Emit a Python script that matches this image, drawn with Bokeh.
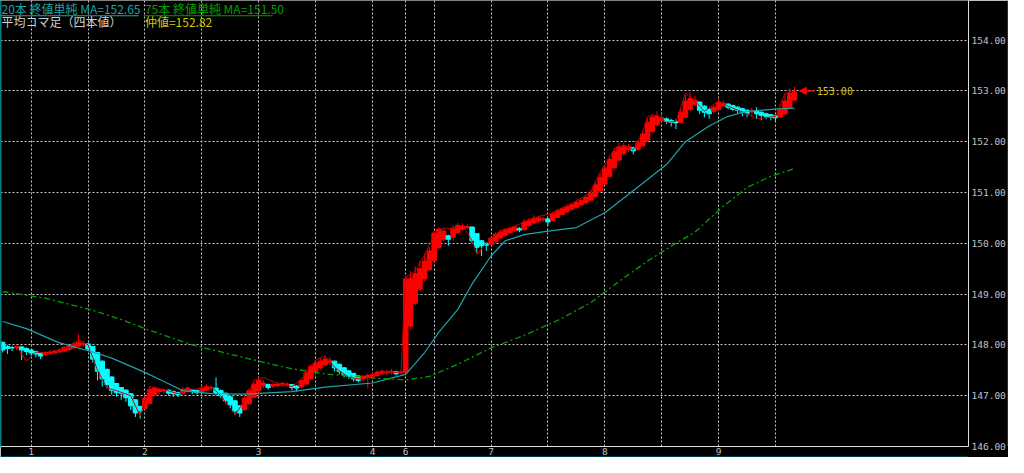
from bokeh.plotting import figure
from bokeh.models import (Range1d, LinearAxis, FixedTicker, Label, Arrow, NormalHead,
                          BoxAnnotation, ColumnDataSource, PrintfTickFormatter)
from bokeh.embed import file_html
from bokeh.resources import INLINE

# ---------------- data (hourly Heikin-Ashi bars, bar index 0..167) ----------------
ha_open = [
    148.05, 147.97, 147.95, 147.94, 147.96, 147.93, 147.90, 147.87, 147.84, 147.81,
    147.83, 147.84, 147.86, 147.88, 147.91, 147.94, 147.98, 148.01, 148.02, 147.97,
    147.85, 147.68, 147.52, 147.37, 147.24, 147.16, 147.11, 147.04, 146.92, 146.79,
    146.75, 146.85, 147.01, 147.08, 147.10, 147.11, 147.08, 147.06, 147.04, 147.08,
    147.12, 147.10, 147.08, 147.11, 147.15, 147.15, 147.10, 147.05, 146.98, 146.90,
    146.80, 146.73, 146.84, 146.97, 147.10, 147.20, 147.22, 147.19, 147.20, 147.21,
    147.22, 147.22, 147.19, 147.17, 147.23, 147.34, 147.46, 147.55, 147.61, 147.66,
    147.68, 147.62, 147.55, 147.49, 147.44, 147.39, 147.34, 147.36, 147.38, 147.40,
    147.43, 147.45, 147.46, 147.47, 147.45, 147.46, 148.37, 148.82, 149.10, 149.30,
    149.48, 149.66, 149.92, 150.07, 150.15, 150.12, 150.21, 150.28, 150.31, 150.32,
    150.19, 150.05, 150.00, 149.98, 150.04, 150.11, 150.16, 150.21, 150.25, 150.29,
    150.27, 150.35, 150.40, 150.44, 150.47, 150.48, 150.45, 150.51, 150.57, 150.62,
    150.67, 150.71, 150.76, 150.80, 150.85, 150.92, 151.03, 151.17, 151.32, 151.49,
    151.64, 151.77, 151.85, 151.88, 151.85, 151.92, 152.03, 152.20, 152.34, 152.42,
    152.45, 152.42, 152.40, 152.38, 152.48, 152.64, 152.74, 152.78, 152.70, 152.64,
    152.60, 152.64, 152.71, 152.74, 152.71, 152.68, 152.65, 152.62, 152.59, 152.60,
    152.58, 152.55, 152.53, 152.51, 152.49, 152.55, 152.68, 152.82,
]
ha_close = [
    147.90, 147.93, 147.94, 147.97, 147.90, 147.87, 147.84, 147.82, 147.78, 147.85,
    147.86, 147.88, 147.90, 147.95, 147.97, 148.02, 148.05, 148.03, 147.92, 147.72,
    147.48, 147.33, 147.22, 147.10, 147.06, 147.05, 146.96, 146.80, 146.66, 146.70,
    146.95, 147.12, 147.15, 147.12, 147.11, 147.05, 147.04, 147.02, 147.12, 147.15,
    147.08, 147.06, 147.15, 147.18, 147.16, 147.05, 147.00, 146.90, 146.82, 146.70,
    146.66, 146.95, 147.10, 147.22, 147.30, 147.25, 147.16, 147.22, 147.23, 147.24,
    147.23, 147.16, 147.15, 147.30, 147.45, 147.58, 147.64, 147.68, 147.72, 147.70,
    147.55, 147.48, 147.42, 147.38, 147.33, 147.30, 147.38, 147.40, 147.42, 147.46,
    147.48, 147.47, 147.48, 147.43, 147.47, 149.30, 149.30, 149.40, 149.50, 149.65,
    149.85, 150.20, 150.28, 150.24, 150.08, 150.30, 150.35, 150.34, 150.33, 150.05,
    149.92, 149.95, 149.96, 150.10, 150.18, 150.22, 150.26, 150.29, 150.32, 150.26,
    150.42, 150.45, 150.48, 150.50, 150.48, 150.42, 150.58, 150.64, 150.68, 150.72,
    150.76, 150.80, 150.84, 150.90, 150.98, 151.15, 151.30, 151.48, 151.65, 151.80,
    151.90, 151.92, 151.90, 151.82, 151.98, 152.15, 152.38, 152.48, 152.50, 152.47,
    152.40, 152.38, 152.37, 152.58, 152.80, 152.85, 152.82, 152.62, 152.58, 152.55,
    152.68, 152.78, 152.76, 152.68, 152.64, 152.62, 152.58, 152.56, 152.61, 152.55,
    152.52, 152.50, 152.48, 152.47, 152.62, 152.80, 152.95, 152.98,
]
ha_high = [
    148.07, 148.00, 147.98, 147.99, 147.98, 147.95, 147.92, 147.89, 147.86, 147.87,
    147.89, 147.90, 147.93, 147.97, 148.00, 148.06, 148.21, 148.08, 148.03, 147.98,
    147.86, 147.70, 147.53, 147.38, 147.25, 147.17, 147.12, 147.05, 146.93, 146.80,
    146.98, 147.18, 147.18, 147.15, 147.14, 147.12, 147.10, 147.08, 147.17, 147.18,
    147.13, 147.12, 147.20, 147.22, 147.19, 147.36, 147.12, 147.06, 146.99, 146.91,
    146.81, 147.00, 147.15, 147.27, 147.36, 147.30, 147.24, 147.25, 147.26, 147.27,
    147.26, 147.23, 147.21, 147.35, 147.52, 147.62, 147.70, 147.75, 147.80, 147.76,
    147.69, 147.63, 147.56, 147.50, 147.45, 147.40, 147.41, 147.44, 147.46, 147.50,
    147.52, 147.51, 147.53, 147.49, 147.50, 149.36, 149.45, 149.55, 149.65, 149.80,
    149.92, 150.25, 150.32, 150.30, 150.17, 150.35, 150.40, 150.39, 150.37, 150.33,
    150.20, 150.06, 150.02, 150.12, 150.22, 150.27, 150.30, 150.33, 150.35, 150.32,
    150.48, 150.50, 150.55, 150.55, 150.52, 150.50, 150.62, 150.68, 150.72, 150.77,
    150.80, 150.85, 150.88, 150.95, 151.05, 151.22, 151.38, 151.55, 151.72, 151.88,
    151.98, 151.98, 151.95, 151.90, 152.02, 152.22, 152.45, 152.55, 152.60, 152.52,
    152.48, 152.45, 152.44, 152.65, 152.92, 152.97, 152.90, 152.80, 152.72, 152.66,
    152.72, 152.85, 152.82, 152.76, 152.73, 152.70, 152.67, 152.64, 152.66, 152.68,
    152.60, 152.57, 152.55, 152.53, 152.68, 152.95, 153.05, 153.08,
]
ha_low = [
    147.85, 147.82, 147.88, 147.90, 147.70, 147.80, 147.78, 147.76, 147.72, 147.78,
    147.80, 147.82, 147.84, 147.86, 147.89, 147.92, 147.95, 147.96, 147.88, 147.65,
    147.30, 147.18, 147.15, 147.02, 146.98, 146.92, 146.88, 146.72, 146.58, 146.55,
    146.72, 146.83, 146.99, 147.03, 147.04, 147.00, 146.98, 146.97, 147.02, 147.06,
    147.03, 147.02, 147.06, 147.09, 147.10, 147.00, 146.95, 146.85, 146.75, 146.62,
    146.58, 146.70, 146.82, 146.95, 147.05, 147.15, 147.12, 147.15, 147.17, 147.18,
    147.18, 147.10, 147.08, 147.14, 147.21, 147.30, 147.42, 147.52, 147.58, 147.60,
    147.48, 147.42, 147.36, 147.33, 147.28, 147.26, 147.28, 147.14, 147.32, 147.37,
    147.40, 147.41, 147.42, 147.40, 147.42, 147.42, 148.30, 148.78, 149.05, 149.25,
    149.45, 149.62, 149.88, 150.03, 149.95, 150.05, 150.18, 150.25, 150.27, 150.00,
    149.80, 149.75, 149.85, 149.95, 150.00, 150.08, 150.12, 150.18, 150.22, 150.22,
    150.25, 150.32, 150.38, 150.40, 150.42, 150.35, 150.43, 150.49, 150.55, 150.60,
    150.64, 150.68, 150.72, 150.77, 150.82, 150.90, 151.00, 151.15, 151.30, 151.45,
    151.60, 151.72, 151.80, 151.75, 151.82, 151.90, 152.00, 152.18, 152.30, 152.38,
    152.35, 152.30, 152.25, 152.36, 152.45, 152.60, 152.70, 152.55, 152.48, 152.45,
    152.56, 152.62, 152.68, 152.64, 152.60, 152.56, 152.50, 152.48, 152.50, 152.45,
    152.42, 152.44, 152.42, 152.40, 152.47, 152.52, 152.65, 152.80,
]

# raw price line (thin dark-red line), vertices at bar index
price_bar = [3, 5, 7, 10, 14, 16, 18, 20, 22, 24, 27, 29, 31, 34, 37, 40, 44, 46, 49, 51,
             53, 55, 58, 61, 63, 66, 68, 70, 73, 76, 80, 84, 85, 87, 89, 91, 93, 95, 97, 99,
             100, 102, 105, 108, 112, 116, 120, 124, 126, 129, 131, 133, 135, 136, 138, 140,
             142, 144, 146, 148, 151, 153, 157, 159, 163, 165, 167]
price_val = [147.96, 147.68, 147.86, 147.82, 147.95, 148.10, 148.00, 147.50, 147.15, 147.10,
             147.00, 146.60, 147.18, 147.12, 147.04, 147.12, 147.18, 147.00, 146.62, 146.90,
             147.30, 147.36, 147.24, 147.18, 147.32, 147.70, 147.78, 147.56, 147.36, 147.32,
             147.46, 147.46, 149.33, 149.45, 149.78, 150.15, 150.30, 150.28, 150.36, 150.05,
             149.78, 150.00, 150.25, 150.34, 150.50, 150.60, 150.78, 151.00, 151.40, 151.85,
             151.92, 151.84, 152.20, 152.50, 152.52, 152.38, 152.40, 152.95, 152.80, 152.60,
             152.80, 152.70, 152.55, 152.45, 152.50, 152.95, 153.00]

# 20-bar simple MA of close
ma20_bar = [0, 5, 12, 19, 23, 30, 34, 38, 44, 51, 61, 68, 78, 85, 89, 92, 96, 99, 103,
            106, 110, 115, 121, 127, 134, 140, 144, 149, 153, 157, 163, 167]
ma20_val = [148.46, 148.32, 148.04, 147.86, 147.74, 147.46, 147.28, 147.10, 147.04, 147.03,
            147.08, 147.17, 147.25, 147.42, 147.85, 148.25, 148.70, 149.20, 149.75, 150.05,
            150.17, 150.24, 150.31, 150.60, 151.11, 151.55, 152.00, 152.31, 152.50, 152.60,
            152.64, 152.66]

# 75-bar simple MA of close
ma75_bar = [0, 9, 19, 25, 30, 40, 54, 61, 68, 78, 85, 90, 96, 103, 110, 117, 124, 130,
            136, 142, 146, 152, 157, 162, 167]
ma75_val = [149.05, 148.92, 148.68, 148.50, 148.32, 148.00, 147.68, 147.53, 147.43, 147.35,
            147.31, 147.38, 147.62, 147.94, 148.19, 148.48, 148.83, 149.25, 149.65, 150.00,
            150.22, 150.73, 151.10, 151.32, 151.47]

day_ticks = [6, 30, 54, 78, 85, 103, 127, 151]
day_labels = ["1", "2", "3", "4", "6", "7", "8", "9"]
grid_ticks = [6, 18, 30, 42, 54, 66, 78, 85, 91, 103, 115, 127, 139, 151, 163]
price_ticks = [146, 147, 148, 149, 150, 151, 152, 153, 154]

ma20_label = 152.65
ma75_label = 151.50
mid_price = 152.82
last_price = price_val[-1]

# ---------------- styling ----------------
RED = "#ff0000"
CYAN = "#00ffff"
TEAL = "#1ea3aa"
GREEN = "#00a000"
GRIDC = "#c8c8c8"
AXISC = "#c0c0c0"
YELLOW = "#d2c800"
FRAME = "#008080"
MONO = "DejaVu Sans Mono"
JP = "Noto Sans CJK JP"

p = figure(width=1008, height=457, output_backend="svg", toolbar_location=None,
           x_range=Range1d(-0.46, 203.7), y_range=Range1d(146.0, 154.78),
           x_axis_location="below", y_axis_location="right",
           background_fill_color="black", border_fill_color="black",
           outline_line_color=None, min_border_left=0, min_border_right=0,
           min_border_top=0, min_border_bottom=0)

# axes
xa = p.xaxis[0]
xa.ticker = FixedTicker(ticks=day_ticks)
xa.major_label_overrides = {t: s for t, s in zip(day_ticks, day_labels)}
ya = p.yaxis[0]
ya.ticker = FixedTicker(ticks=price_ticks)
ya.formatter = PrintfTickFormatter(format="%.2f")
for ax in (xa, ya):
    ax.axis_line_color = "#e0e0e0"
    ax.axis_line_width = 1
    ax.major_tick_line_color = None
    ax.minor_tick_line_color = None
    ax.major_tick_out = 0
    ax.major_tick_in = 0
    ax.minor_tick_out = 0
    ax.major_label_text_color = AXISC
    ax.major_label_text_font = MONO
    ax.major_label_text_font_size = "9.5px"
xa.major_label_standoff = 1
ya.major_label_standoff = 3


def border_axis():
    return LinearAxis(ticker=FixedTicker(ticks=[]), axis_line_color=FRAME,
                      axis_line_width=2, major_tick_line_color=None,
                      minor_tick_line_color=None, major_tick_out=0, major_tick_in=0,
                      minor_tick_out=0, major_label_text_font_size="0px",
                      major_label_standoff=0)


p.add_layout(border_axis(), "left")
p.add_layout(border_axis(), "right")
p.add_layout(border_axis(), "below")

# grid
p.xgrid.ticker = FixedTicker(ticks=grid_ticks)
p.ygrid.ticker = FixedTicker(ticks=price_ticks)
for g in (p.xgrid, p.ygrid):
    g.grid_line_color = GRIDC
    g.grid_line_dash = "2 2"
    g.grid_line_width = 1

# candles
n = len(ha_open)
colors = [RED if c >= o else CYAN for o, c in zip(ha_open, ha_close)]
src = ColumnDataSource(dict(
    x=list(range(n)), h=ha_high, l=ha_low,
    top=[max(o, c) for o, c in zip(ha_open, ha_close)],
    bottom=[min(o, c) for o, c in zip(ha_open, ha_close)],
    color=colors))
p.segment(x0="x", y0="h", x1="x", y1="l", source=src, line_color="color", line_width=1)
p.vbar(x="x", width=0.95, top="top", bottom="bottom", source=src,
       fill_color="color", line_color="color", line_width=1)

# price line and moving averages
p.line(price_bar, price_val, line_color="#c00000", line_width=1)
p.line(ma20_bar, ma20_val, line_color=TEAL, line_width=1.2)
p.line(ma75_bar, ma75_val, line_color=GREEN, line_width=1.3, line_dash="6 3 2 3")

# header texts
t1 = f"20本 終値単純 MA={ma20_label:.2f}"
t2 = f"75本 終値単純 MA={ma75_label:.2f}"
p.add_layout(Label(x=-0.25, y=154.63, text=t1, text_color=TEAL, text_font=JP,
                   text_font_size="12px", text_baseline="middle"))
p.add_layout(Label(x=30.0, y=154.63, text=t2, text_color=GREEN, text_font=JP,
                   text_font_size="12px", text_baseline="middle"))
p.add_layout(BoxAnnotation(left=-0.46, right=28.7, bottom=154.468, top=154.488,
                           fill_color=TEAL, fill_alpha=1, line_color=None))
p.add_layout(BoxAnnotation(left=29.75, right=57.0, bottom=154.468, top=154.488,
                           fill_color=GREEN, fill_alpha=1, line_color=None))
p.add_layout(Label(x=-0.25, y=154.36, text="平均コマ足（四本値）", text_color="#d0d0d0",
                   text_font=JP, text_font_size="12px", text_baseline="middle"))
p.add_layout(Label(x=30.0, y=154.36, text=f"仲値={mid_price:.2f}", text_color=YELLOW,
                   text_font=JP, text_font_size="12px", text_baseline="middle"))

# last price marker
p.add_layout(Arrow(x_start=171.2, y_start=last_price, x_end=168.0, y_end=last_price,
                   line_color=RED, line_width=1.5,
                   end=NormalHead(size=7, fill_color=RED, line_color=RED)))
p.add_layout(Label(x=171.7, y=last_price, text=f"{last_price:.2f}", text_color=YELLOW,
                   text_font=MONO, text_font_size="10px", text_baseline="middle"))

open("out.html", "w").write(file_html(p, INLINE))
